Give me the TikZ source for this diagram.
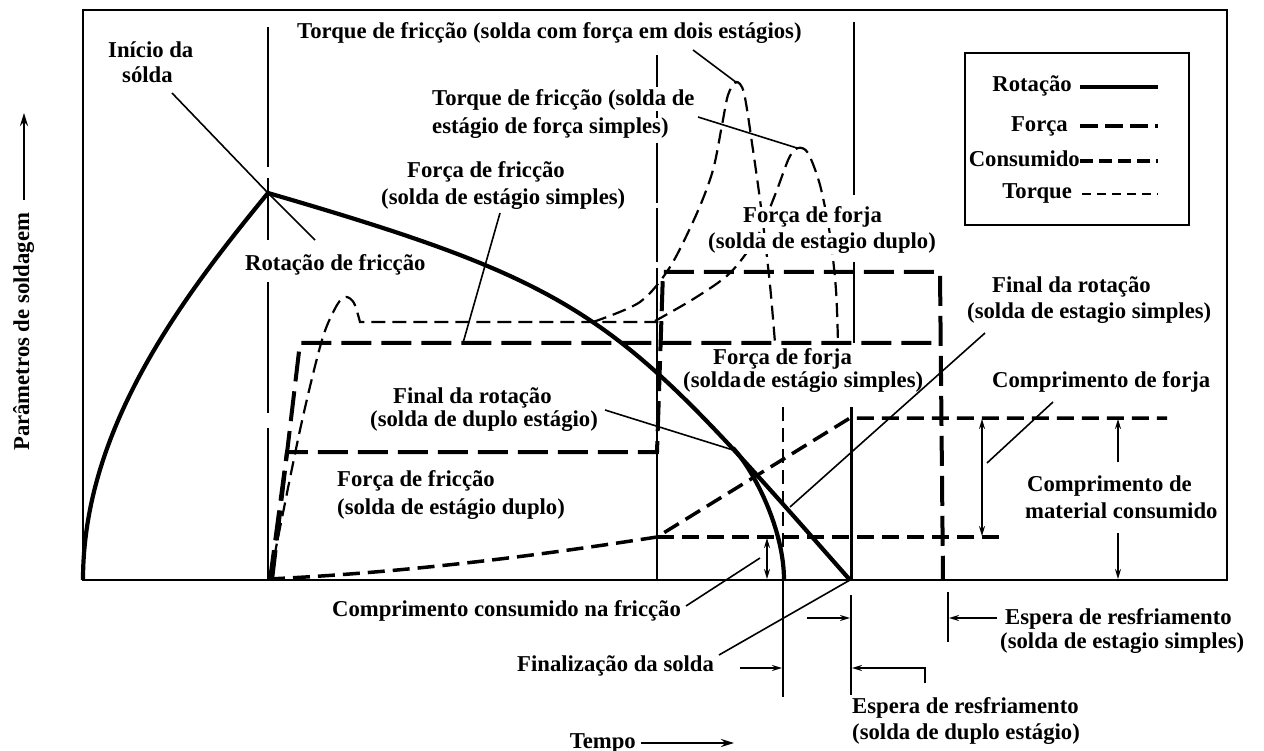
\documentclass[tikz,border=0pt]{standalone}
\usepackage{fontspec}
\setmainfont{Liberation Serif}
\usetikzlibrary{arrows.meta}
\begin{document}
\begin{tikzpicture}[x=1pt,y=-1pt,
  lbl/.style={anchor=base west,inner sep=0pt,fill=white,font=\fontsize{22.7}{26}\selectfont\bfseries},
  lble/.style={lbl,anchor=base east},
  frame/.style={line width=2.6pt},
  rot/.style={line width=4.2pt},
  force/.style={line width=4pt,dash pattern=on 30pt off 10pt},
  cons/.style={line width=3.5pt,dash pattern=on 17pt off 8pt},
  torq/.style={line width=2.2pt,dash pattern=on 14pt off 7pt},
  lead/.style={line width=1.6pt},
  vmark/.style={line width=2.2pt},
  arr/.style={line width=1.8pt,-{Stealth[length=10pt,width=6pt]}},
  darr/.style={line width=1.8pt,{Stealth[length=10pt,width=6pt]}-{Stealth[length=10pt,width=6pt]}},
]
\useasboundingbox (0,0) rectangle (1264,751);
\fill[white] (0,0) rectangle (1264,751);

% frame
\draw[frame] (83,10) rectangle (1227,580);

% key points
\coordinate (O) at (83,580);
\coordinate (peak) at (268,193);
\coordinate (tpA) at (737,83);
\coordinate (tpB) at (797,148);
\coordinate (fsi) at (463,343);
\coordinate (rdu) at (733,450);
\coordinate (rsi) at (790,507);
\coordinate (rend) at (850,580);
\coordinate (cfr) at (760,558);
\coordinate (cfo) at (987,463);
\coordinate (rfr) at (315,240);

% time markers
\draw[vmark] (268,27) -- (268,167) (268,178) -- (268,240) (268,282) -- (268,413) (268,428) -- (268,580);
\draw[vmark] (657,55) -- (657,87) (657,93) -- (657,135) (657,143) -- (657,203) (657,208) -- (657,262) (657,268) -- (657,580);
\draw[vmark] (854,22) -- (854,195) (854,262) -- (854,343);
\draw[vmark,line width=3pt] (851,407) -- (851,580);
\draw[vmark] (851,595) -- (851,695) (783,580) -- (783,697) (948,592) -- (948,642);

% consumed length
\draw[cons] (268,579) .. controls (420,572) and (560,552) .. (657,537) -- (850,418) -- (1167,418);
\draw[cons] (657,537) -- (1005,537);

% forces
\draw[force] (270,580) -- (287,452) -- (657,452) -- (663,272) -- (940,272) -- (943,580);
\draw[force] (272,580) -- (300,343) -- (940,343);

% torques
\draw[torq] plot[smooth] coordinates {(270,578) (300,430) (322,340) (337,305) (346,297) (354,303) (360,322)} -- (660,322);
\draw[torq] plot[smooth] coordinates {(593,322) (640,302) (670,267) (697,213) (713,170) (722,125) (728,95) (736,82) (744,93) (753,150) (762,215) (770,285) (775,343)};
\draw[torq] plot[smooth] coordinates {(655,321) (695,298) (730,273) (757,237) (775,195) (789,158) (798,148) (808,153) (820,185) (830,235) (836,290) (838,343)};
\draw[torq] (783,407) -- (783,580);

% rotation
\draw[rot] (O) .. controls (83,430) and (180,300) .. (peak);
\draw[rot] (peak) .. controls (598,289) and (620,319) .. (rend);
\draw[rot] (733,448) .. controls (755,472) and (784,530) .. (784,580);

% labels
\node[lbl] (ini1) at (108,58) {Início da};
\node[lbl] (ini2) at (122,83) {sólda};
\node[lbl] (tq2) at (297,39) {Torque de fricção (solda com força em dois estágios)};
\node[lbl] (tq1a) at (432,106) {Torque de fricção (solda de};
\node[lbl] (tq1b) at (432,134) {estágio de força simples)};
\node[lbl] (ffs1) at (407,178) {Força de fricção};
\node[lbl] (ffs2) at (381,205) {(solda de estágio simples)};
\node[lbl] (fgd1) at (743,223) {Força de forja};
\node[lbl] (fgd2) at (708,249) {(solda de estagio duplo)};
\node[lbl] (rotf) at (245,271) {Rotação de fricção};
\node[lbl] (frs1) at (992,293) {Final da rotação};
\node[lbl] (frs2) at (967,319) {(solda de estagio simples)};
\node[lbl] (fgs1) at (713,364) {Força de forja};
\node[lbl] (fgs2) at (683,388) {(solda\kern-4pt\ de estágio simples)};
\node[lbl] (cfor) at (992,388) {Comprimento de forja};
\node[lbl] (frd1) at (393,403) {Final da rotação};
\node[lbl] (frd2) at (370,426) {(solda de duplo estágio)};
\node[lbl] (ffd1) at (337,486) {Força de fricção};
\node[lbl] (ffd2) at (337,514) {(solda de estágio duplo)};
\node[lbl] (cmc1) at (1027,491) {Comprimento de};
\node[lbl] (cmc2) at (1025,518) {material consumido};
\node[lbl] (ccf) at (332,616) {Comprimento consumido na fricção};
\node[lbl] (ers1) at (1005,624) {Espera de resfriamento};
\node[lbl] (ers2) at (1000,648) {(solda de estagio simples)};
\node[lbl] (fin) at (517,671) {Finalização da solda};
\node[lbl] (erd1) at (852,713) {Espera de resfriamento};
\node[lbl] (erd2) at (852,739) {(solda de duplo estágio)};
\node[lble] (tempo) at (636,748) {Tempo};
\node[lbl,rotate=90] (ylab) at (29,451) {Parâmetros de soldagem};

% axis arrows
\coordinate (ya1) at (24,200);
\coordinate (ya2) at (24,113);
\draw[line width=2.2pt,-{Stealth[length=13pt,width=8pt]}] (ya1) -- (ya2);
\coordinate (ta1) at (641,743);
\coordinate (ta2) at (734,743);
\draw[line width=2.2pt,-{Stealth[length=13pt,width=8pt]}] (ta1) -- (ta2);

% leaders
\coordinate (l1) at (172,93);
\draw[lead] (l1) -- (peak) -- (rfr);
\coordinate (l2) at (693,50);
\draw[lead] (l2) -- (tpA);
\coordinate (l3) at (698,117);
\draw[lead] (l3) -- (tpB);
\coordinate (l4) at (500,213);
\draw[lead] (l4) -- (fsi);
\coordinate (l5) at (605,410);
\draw[lead] (l5) -- (rdu);
\coordinate (l6) at (985,333);
\draw[lead] (l6) -- (rsi);
\coordinate (l7) at (1053,402);
\draw[lead] (l7) -- (cfo);
\coordinate (l8) at (686,606);
\draw[lead] (l8) -- (cfr);
\coordinate (l9) at (719,655);
\draw[lead] (l9) -- (rend);

% dimension arrows
\coordinate (d1a) at (767,538);
\coordinate (d1b) at (767,579);
\draw[darr] (d1a) -- (d1b);
\coordinate (d2a) at (982,419);
\coordinate (d2b) at (982,536);
\draw[darr] (d2a) -- (d2b);
\coordinate (d3a) at (1118,462);
\coordinate (d3b) at (1118,419);
\draw[arr] (d3a) -- (d3b);
\coordinate (d4a) at (1118,533);
\coordinate (d4b) at (1118,579);
\draw[arr] (d4a) -- (d4b);
\coordinate (e1a) at (807,618);
\coordinate (e1b) at (850,618);
\draw[arr] (e1a) -- (e1b);
\coordinate (e2a) at (740,668);
\coordinate (e2b) at (782,668);
\draw[arr] (e2a) -- (e2b);
\coordinate (e3a) at (925,683);
\coordinate (e3b) at (852,668);
\draw[arr] (e3a) |- (e3b);
\coordinate (e4a) at (997,618);
\coordinate (e4b) at (949,618);
\draw[arr] (e4a) -- (e4b);

% legend
\draw[frame] (965,53) rectangle (1189,225);
\node[lble] (lgr) at (1072,92) {Rotação};
\node[lble] (lgf) at (1068,132) {Força};
\node[lble] (lgc) at (1080,167) {Consumido};
\node[lble] (lgt) at (1072,199) {Torque};
\coordinate (s1a) at (1080,87); \coordinate (s1b) at (1158,87);
\draw[rot] (s1a) -- (s1b);
\coordinate (s2a) at (1080,126); \coordinate (s2b) at (1158,126);
\draw[line width=4pt,dash pattern=on 18pt off 7pt] (s2a) -- (s2b);
\coordinate (s3a) at (1080,161); \coordinate (s3b) at (1158,161);
\draw[line width=3.5pt,dash pattern=on 13pt off 6pt] (s3a) -- (s3b);
\coordinate (s4a) at (1082,194); \coordinate (s4b) at (1158,194);
\draw[line width=2.4pt,dash pattern=on 9pt off 6pt] (s4a) -- (s4b);
\end{tikzpicture}
\end{document}
